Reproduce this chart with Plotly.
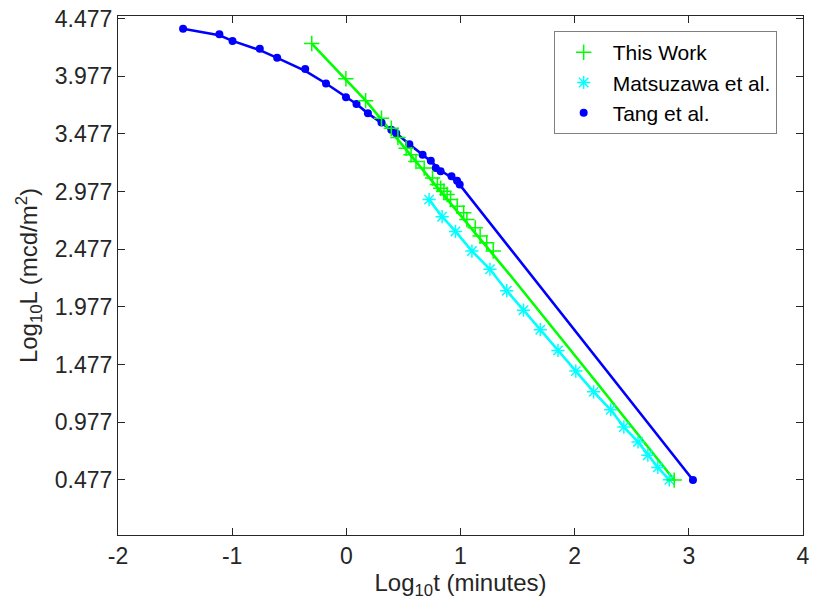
import plotly.graph_objects as go

# ---- data ----
this_work_x = [-0.303, -0.004, 0.169, 0.308, 0.394, 0.452, 0.524, 0.567, 0.610, 0.682,
               0.755, 0.798, 0.826, 0.855, 0.883, 0.913, 0.971, 1.028, 1.056, 1.129,
               1.172, 1.230, 1.287, 2.872]
this_work_y = [4.261, 3.956, 3.766, 3.613, 3.527, 3.446, 3.354, 3.297, 3.239, 3.181,
               3.095, 3.038, 3.006, 2.980, 2.952, 2.908, 2.851, 2.793, 2.736, 2.663,
               2.592, 2.534, 2.462, 0.476]
this_work_fit_x = [-0.303, -0.004, 0.178, 0.753, 1.45, 2.194, 2.872]
this_work_fit_y = [4.261, 3.950, 3.757, 3.066, 2.235, 1.320, 0.477]

matsu_x = [0.725, 0.839, 0.956, 1.100, 1.258, 1.405, 1.552, 1.699, 1.854, 2.010,
           2.166, 2.316, 2.431, 2.555, 2.641, 2.728, 2.829]
matsu_y = [2.908, 2.760, 2.632, 2.462, 2.304, 2.118, 1.949, 1.780, 1.600, 1.421,
           1.241, 1.086, 0.936, 0.807, 0.692, 0.586, 0.478]

tang_x = [-1.430, -1.112, -0.997, -0.758, -0.606, -0.360, -0.178, -0.003, 0.089, 0.189,
          0.308, 0.394, 0.437, 0.552, 0.668, 0.740, 0.783, 0.826, 0.921, 0.970,
          0.993, 3.036]
tang_y = [4.390, 4.342, 4.284, 4.215, 4.137, 4.040, 3.915, 3.795, 3.737, 3.656,
          3.576, 3.513, 3.484, 3.389, 3.297, 3.245, 3.181, 3.153, 3.110, 3.072,
          3.038, 0.477]
tang_fit_x = [-1.430, -1.112, -0.997, -0.758, -0.606, -0.360, -0.178, -0.003, 0.089, 0.189,
              0.308, 0.394, 0.437, 0.552, 0.668, 0.740, 0.826, 0.921, 0.993, 3.036]
tang_fit_y = [4.390, 4.333, 4.284, 4.204, 4.137, 4.025, 3.915, 3.795, 3.737, 3.656,
              3.576, 3.513, 3.484, 3.389, 3.297, 3.240, 3.160, 3.100, 3.038, 0.477]

y_ticks = [0.477, 0.977, 1.477, 1.977, 2.477, 2.977, 3.477, 3.977, 4.477]
y_tick_labels = ["0.477", "0.977", "1.477", "1.977", "2.477", "2.977", "3.477", "3.977", "4.477"]
x_ticks = [-2, -1, 0, 1, 2, 3, 4]
x_tick_labels = ["-2", "-1", "0", "1", "2", "3", "4"]

GREEN = "#00FF00"
CYAN = "#00FFFF"
BLUE = "#0000FF"
AX = "#262626"
FONT = "Liberation Sans, Arial, sans-serif"

fig = go.Figure()

# fit lines (no legend)
fig.add_trace(go.Scatter(x=tang_fit_x, y=tang_fit_y, mode="lines",
                         line=dict(color=BLUE, width=2.6), showlegend=False, hoverinfo="skip"))
fig.add_trace(go.Scatter(x=matsu_x, y=matsu_y, mode="lines",
                         line=dict(color=CYAN, width=2.6), showlegend=False, hoverinfo="skip"))
fig.add_trace(go.Scatter(x=this_work_fit_x, y=this_work_fit_y, mode="lines",
                         line=dict(color=GREEN, width=2.6), showlegend=False, hoverinfo="skip"))

# data markers
fig.add_trace(go.Scatter(x=tang_x, y=tang_y, mode="markers", name="Tang et al.",
                         legendrank=3,
                         marker=dict(symbol="circle", size=8, color=BLUE,
                                     line=dict(width=0))))
fig.add_trace(go.Scatter(x=matsu_x, y=matsu_y, mode="markers", name="Matsuzawa et al.",
                         legendrank=2,
                         marker=dict(symbol="asterisk-open", size=11, color=CYAN,
                                     line=dict(color=CYAN, width=1.5))))
fig.add_trace(go.Scatter(x=this_work_x, y=this_work_y, mode="markers", name="This Work",
                         legendrank=1,
                         marker=dict(symbol="cross-thin-open", size=11, color=GREEN,
                                     line=dict(color=GREEN, width=1.5))))

fig.update_layout(
    width=816, height=610,
    margin=dict(l=118, r=6, t=14, b=75),
    paper_bgcolor="white", plot_bgcolor="white",
    font=dict(family=FONT, size=23, color=AX),
    showlegend=True,
    legend=dict(x=0.636, y=0.971, xanchor="left", yanchor="top",
                bgcolor="white", bordercolor="#7f7f7f", borderwidth=1,
                font=dict(family=FONT, size=21, color="black"),
                itemwidth=48, traceorder="normal"),
    xaxis=dict(range=[-2, 4], tickvals=x_ticks, ticktext=x_tick_labels,
               ticks="inside", ticklen=7, ticklabeloverflow="allow",
               showline=True, linecolor=AX, linewidth=1, mirror="ticks",
               showgrid=False, zeroline=False, tickcolor=AX,
               tickfont=dict(family=FONT, size=23, color=AX),
               title=dict(text="Log<sub>10</sub>t (minutes)",
                          font=dict(family=FONT, size=24, color=AX), standoff=4)),
    yaxis=dict(range=[0, 4.5], tickvals=y_ticks, ticktext=y_tick_labels,
               ticks="inside", ticklen=7, ticklabeloverflow="allow",
               showline=True, linecolor=AX, linewidth=1, mirror="ticks",
               showgrid=False, zeroline=False, tickcolor=AX,
               tickfont=dict(family=FONT, size=23, color=AX),
               title=dict(text="Log<sub>10</sub>L (mcd/m<sup>2</sup>)",
                          font=dict(family=FONT, size=24, color=AX), standoff=10)),
)

# remove the default 8px page margin so the figure fills the window exactly
fig.write_html("out.html",
               config={"displayModeBar": False},
               post_script="document.body.style.margin='0';document.body.style.padding='0';")
